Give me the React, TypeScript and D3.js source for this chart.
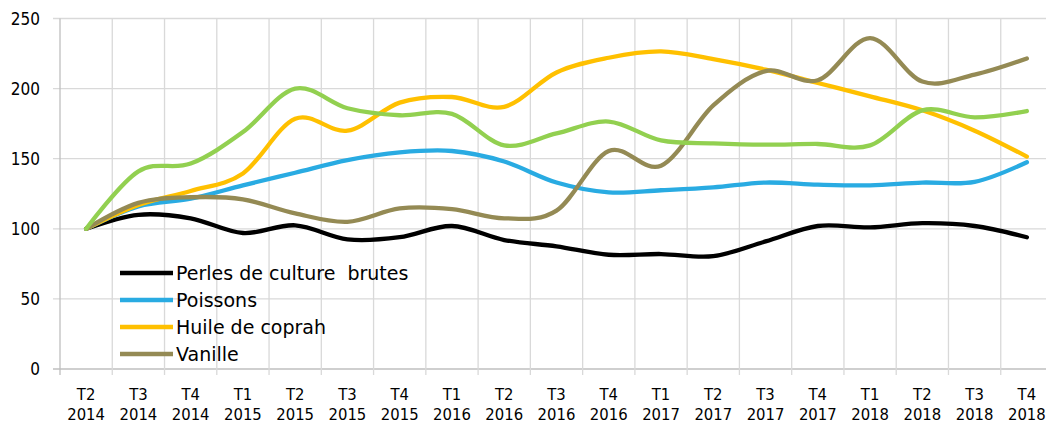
import React from 'react';
import * as d3 from 'd3';

const quarters = ['T2', 'T3', 'T4', 'T1', 'T2', 'T3', 'T4', 'T1', 'T2', 'T3', 'T4', 'T1', 'T2', 'T3', 'T4', 'T1', 'T2', 'T3', 'T4'];
const years = ['2014', '2014', '2014', '2015', '2015', '2015', '2015', '2016', '2016', '2016', '2016', '2017', '2017', '2017', '2017', '2018', '2018', '2018', '2018'];

const perles = [100, 110, 107.5, 97, 102.5, 92.5, 94, 102, 92, 87.5, 81.5, 82, 80.5, 91, 102, 101, 104, 102, 94];
const poissons = [100, 116, 121.5, 131, 140, 149, 154.5, 155.5, 148, 133, 126, 127.5, 129.5, 133, 131.5, 131, 133, 133.5, 147.5];
const huile = [100, 117, 127, 139.5, 178.5, 170, 190, 194, 187, 211.5, 222, 226.5, 221, 213.5, 204, 194.5, 184.5, 170, 151.5];
const vanille = [100, 118.5, 122.5, 121, 111, 105, 114.5, 114, 107.5, 113, 155.5, 145, 188, 212.5, 206, 236, 205, 210, 221.5];
const autre = [100, 141, 146.5, 169, 200, 186, 181, 182, 159.5, 168, 176.5, 163, 161, 160, 160.5, 159.5, 184.5, 179.5, 184];

const yTicks = [0, 50, 100, 150, 200, 250];

const series = [
  { name: 'Perles de culture\u00a0 brutes', values: perles, color: '#000000', legend: true },
  { name: 'Poissons', values: poissons, color: '#29ABE2', legend: true },
  { name: 'Huile de coprah', values: huile, color: '#FFC000', legend: true },
  { name: 'Vanille', values: vanille, color: '#948A54', legend: true },
  { name: '', values: autre, color: '#92D050', legend: false },
];

const W = 1046;
const H = 423;
const AXIS_FONT = '"DejaVu Sans Condensed", "DejaVu Sans", sans-serif';
const LEGEND_FONT = '"DejaVu Sans", sans-serif';

export default function App() {
  const idx = quarters.map((_, i) => String(i));
  const x = d3.scaleBand<string>().domain(idx).range([60, 1053]);
  const y = d3.scaleLinear().domain([0, 250]).range([369, 18.5]);

  const line = d3.line<number>()
    .x((_, i) => (x(String(i)) as number) + x.bandwidth() / 2)
    .y(d => y(d))
    .curve(d3.curveCatmullRom.alpha(0));

  const bounds = d3.range(quarters.length + 1).map(i => 60 + i * x.bandwidth());
  const legendItems = series.filter(s => s.legend);

  return (
    <svg width={W} height={H} style={{ position: 'absolute', left: 0, top: 0, display: 'block', background: '#fff' }}>
      {/* horizontal grid */}
      {yTicks.map(t => (
        <line key={'h' + t} x1={53} x2={W} y1={y(t)} y2={y(t)} stroke={t === 0 ? '#BFBFBF' : '#D9D9D9'} strokeWidth={1.3} />
      ))}
      {/* vertical grid + ticks */}
      {bounds.map((b, i) => (
        <line key={'v' + i} x1={b} x2={b} y1={y(250)} y2={375} stroke={i === 0 ? '#BFBFBF' : '#D9D9D9'} strokeWidth={1.3} />
      ))}
      {/* y labels */}
      {yTicks.map(t => (
        <text key={'yl' + t} x={40} y={y(t) + 6} textAnchor="end" fontFamily={AXIS_FONT} fontSize={17} fill="#000">{t}</text>
      ))}
      {/* x labels */}
      {quarters.map((q, i) => {
        const cx = (x(String(i)) as number) + x.bandwidth() / 2;
        return (
          <g key={'xl' + i}>
            <text x={cx} y={400} textAnchor="middle" fontFamily={AXIS_FONT} fontSize={16.5} fill="#000">{q}</text>
            <text x={cx} y={420} textAnchor="middle" fontFamily={AXIS_FONT} fontSize={16.5} fill="#000">{years[i]}</text>
          </g>
        );
      })}
      {/* series */}
      {series.map(s => (
        <path key={s.color} d={line(s.values) || ''} fill="none" stroke={s.color} strokeWidth={4.3} strokeLinecap="round" strokeLinejoin="round" />
      ))}
      {/* legend */}
      {legendItems.map((s, i) => {
        const ly = 273 + i * 27;
        return (
          <g key={'lg' + i}>
            <line x1={120} x2={173} y1={ly} y2={ly} stroke={s.color} strokeWidth={4.3} />
            <text x={176} y={ly + 7} fontFamily={LEGEND_FONT} fontSize={19} fill="#000">{s.name}</text>
          </g>
        );
      })}
    </svg>
  );
}
